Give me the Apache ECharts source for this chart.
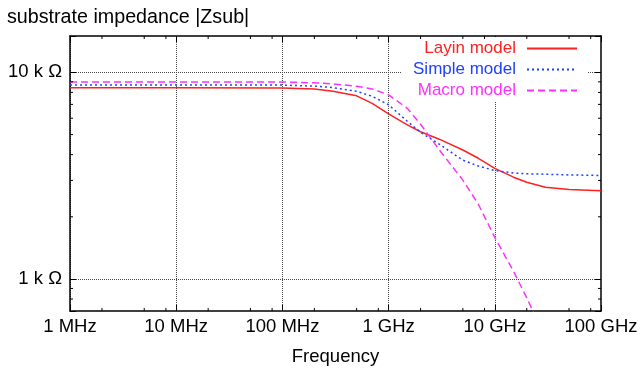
<!DOCTYPE html>
<html>
<head>
<meta charset="utf-8">
<script src="https://cdn.jsdelivr.net/npm/echarts@6/dist/echarts.min.js"></script>
<style>
html,body{margin:0;padding:0;background:#fff;}
#c{width:642px;height:373px;}
</style>
</head>
<body>
<div id="c"></div>
<script>
// ---- data ----
const freqs = [1e6, 1e7, 1e8, 2e8, 3e8, 5e8, 7e8, 1e9, 1.5e9, 2e9, 3e9, 5e9, 7e9, 1e10, 1.5e10, 2e10, 3e10, 5e10, 1e11];
const layin  = [8420, 8420, 8400, 8300, 8100, 7700, 7080, 6300, 5570, 5160, 4750, 4210, 3840, 3430, 3110, 2940, 2780, 2710, 2670];
const simple = [8680, 8680, 8680, 8580, 8440, 8100, 7660, 6970, 5800, 5130, 4490, 3760, 3520, 3350, 3260, 3230, 3215, 3190, 3170];
const macro  = [8990, 8990, 8990, 8900, 8800, 8560, 8320, 7790, 6700, 5610, 4220, 3010, 2300, 1590, 1090, 810, 520, 300, null];
const seriesNames = ['Layin model', 'Simple model', 'Macro model'];

const xTickValues = [1e6, 1e7, 1e8, 1e9, 1e10, 1e11];
const xTickLabels = ['1 MHz', '10 MHz', '100 MHz', '1 GHz', '10 GHz', '100 GHz'];
const yTickValues = [1000, 10000];
const yTickLabels = ['1 k \u03A9', '10 k \u03A9'];
const xMinorTicks = [2e6, 5e6, 8e6, 2e7, 5e7, 8e7, 2e8, 5e8, 8e8, 2e9, 5e9, 8e9, 2e10, 5e10, 8e10];
const yMinorTicks = [800, 900, 2000, 3000, 4000, 5000, 6000, 7000, 8000, 9000];

const X_MIN = 1e6, X_MAX = 1e11, Y_MIN = 700, Y_MAX = 15000;
const FONT = '"Liberation Sans", Arial, Helvetica, sans-serif';

function pair(ys) { return freqs.map((f, i) => [f, ys[i]]).filter(p => p[1] != null); }
function findLabel(vals, labels, v) {
  for (let i = 0; i < vals.length; i++) {
    if (Math.abs(Math.log10(v) - Math.log10(vals[i])) < 1e-6) return labels[i];
  }
  return '';
}

const chart = echarts.init(document.getElementById('c'), null, {renderer: 'canvas'});

const axisLineStyle = {color: '#000', width: 1.5};
const gridLine = {show: true, showMinLine: false, showMaxLine: false, lineStyle: {color: '#444', width: 1, type: [1, 1]}};

function xAxis(pos, showLabel) {
  return {
    type: 'log', logBase: 10, min: X_MIN, max: X_MAX, position: pos,
    axisLine: {show: true, onZero: false, lineStyle: axisLineStyle},
    axisTick: {show: true, inside: true, length: 6, lineStyle: {color: '#000', width: 1}},
    axisLabel: {show: showLabel, margin: 6, fontSize: 18.5, color: '#000', fontFamily: FONT,
      showMinLabel: true, showMaxLabel: true,
      formatter: v => findLabel(xTickValues, xTickLabels, v)},
    splitLine: showLabel ? gridLine : {show: false},
    minorTick: {show: false}
  };
}
function yAxis(pos, showLabel) {
  return {
    type: 'log', logBase: 10, min: Y_MIN, max: Y_MAX, position: pos,
    axisLine: {show: true, onZero: false, lineStyle: axisLineStyle},
    axisTick: {show: true, inside: true, length: 6, lineStyle: {color: '#000', width: 1}},
    axisLabel: {show: showLabel, margin: 8, fontSize: 18.5, color: '#000', fontFamily: FONT,
      formatter: v => findLabel(yTickValues, yTickLabels, v)},
    splitLine: showLabel ? gridLine : {show: false}
  };
}

const colors = ['#ff2020', '#2040ff', '#ff30ff'];
const dashes = ['solid', [2, 3], [7, 4]];
const dataSets = [layin, simple, macro];

const lineSeries = dataSets.map((d, i) => ({
  name: seriesNames[i], type: 'line', xAxisIndex: 0, yAxisIndex: 0,
  data: pair(d), symbol: 'none', showSymbol: false, clip: true, smooth: false,
  lineStyle: {color: colors[i], width: 1.5, type: dashes[i]},
  itemStyle: {color: colors[i]},
  z: 3 + i, animation: false
}));

const minorSeries = {
  type: 'custom', xAxisIndex: 0, yAxisIndex: 0, silent: true, animation: false, z: 10,
  data: xMinorTicks.map(v => [v, Y_MIN]).concat(yMinorTicks.map(v => [X_MIN, v])),
  renderItem: function (params, api) {
    const isX = params.dataIndex < xMinorTicks.length;
    const L = 3;
    const st = {stroke: '#000', lineWidth: 1};
    if (isX) {
      const v = xMinorTicks[params.dataIndex];
      const b = api.coord([v, Y_MIN]);
      const t = api.coord([v, Y_MAX]);
      return {type: 'group', children: [
        {type: 'line', shape: {x1: b[0], y1: b[1], x2: b[0], y2: b[1] - L}, style: st},
        {type: 'line', shape: {x1: t[0], y1: t[1], x2: t[0], y2: t[1] + L}, style: st}
      ]};
    } else {
      const v = yMinorTicks[params.dataIndex - xMinorTicks.length];
      const l = api.coord([X_MIN, v]);
      const r = api.coord([X_MAX, v]);
      return {type: 'group', children: [
        {type: 'line', shape: {x1: l[0], y1: l[1], x2: l[0] + L, y2: l[1]}, style: st},
        {type: 'line', shape: {x1: r[0], y1: r[1], x2: r[0] - L, y2: r[1]}, style: st}
      ]};
    }
  }
};

chart.setOption({
  animation: false,
  backgroundColor: '#fff',
  title: {text: 'substrate impedance |Zsub|', left: 2, top: 3,
    textStyle: {fontSize: 19.7, fontWeight: 'normal', color: '#000', fontFamily: FONT}},
  grid: {left: 70, right: 41, top: 36, bottom: 62, containLabel: false, outerBoundsMode: 'none'},
  legend: {
    data: seriesNames.map((n, i) => ({name: n, textStyle: {color: colors[i]}})),
    orient: 'vertical', right: 55, top: 37, padding: [3, 9, 3, 11], itemGap: 4,
    backgroundColor: '#fff', z: 8,
    align: 'right', itemWidth: 50, itemHeight: 14, selectedMode: false,
    itemStyle: {opacity: 0},
    textStyle: {fontSize: 17, lineHeight: 17, fontFamily: FONT, padding: [0, 6, 0, 0]}
  },
  xAxis: [
    Object.assign(xAxis('bottom', true), {name: 'Frequency', nameLocation: 'middle', nameGap: 36,
      nameTextStyle: {fontSize: 18.5, color: '#000', fontFamily: FONT}}),
    xAxis('top', false)
  ],
  yAxis: [yAxis('left', true), yAxis('right', false)],
  series: lineSeries.concat([minorSeries])
});
</script>
</body>
</html>
